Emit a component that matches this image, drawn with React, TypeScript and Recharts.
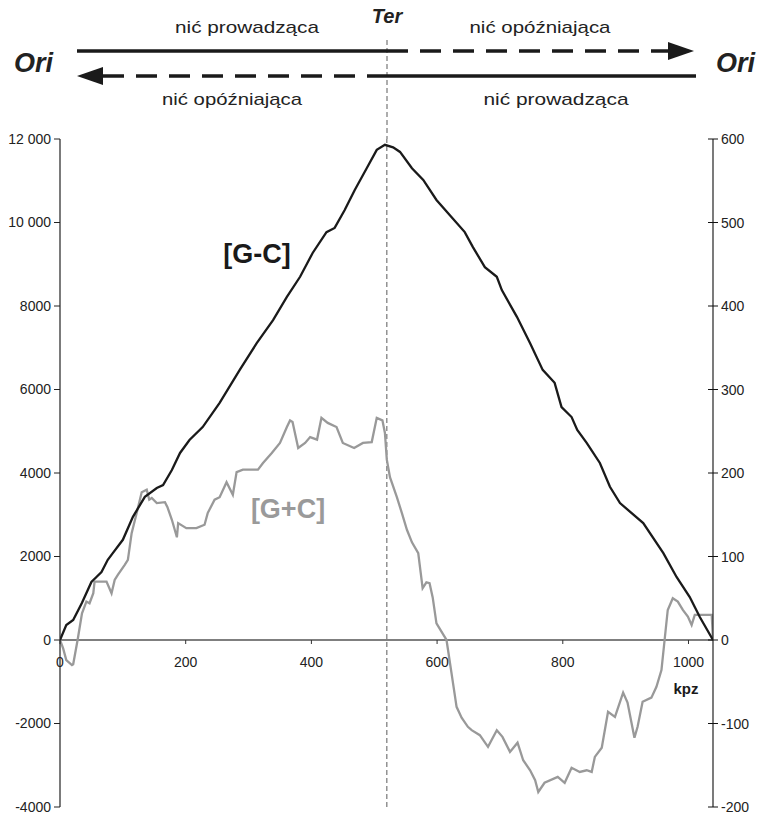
import React from 'react'
import { LineChart, Line, XAxis, YAxis, ReferenceLine } from 'recharts'

// cumulative [G-C] skew (left axis), position in kpz
const gcKb = [0, 10, 21, 35, 50, 58, 66, 76, 84, 100, 116, 135, 154, 164, 178, 191, 206, 227, 254, 286, 313, 339, 361, 382, 402, 424, 437, 453, 469, 488, 504, 517, 530, 541, 560, 578, 599, 620, 644, 657, 676, 695, 703, 727, 748, 768, 787, 798, 814, 823, 838, 859, 875, 891, 928, 960, 981, 1002, 1018, 1039]
const gcVal = [0, 360, 480, 890, 1390, 1510, 1630, 1920, 2080, 2400, 2950, 3430, 3640, 3710, 4070, 4480, 4790, 5100, 5680, 6470, 7110, 7660, 8220, 8700, 9270, 9770, 9870, 10300, 10780, 11300, 11740, 11860, 11800, 11690, 11300, 11020, 10540, 10180, 9770, 9410, 8930, 8700, 8380, 7740, 7110, 6470, 6160, 5580, 5340, 5030, 4720, 4240, 3670, 3280, 2800, 2080, 1510, 1030, 550, 0]

// cumulative [G+C] (right axis)
const gpcKb = [0, 5, 10, 19, 21, 28, 35, 42, 47, 53, 55, 74, 82, 87, 92, 103, 108, 114, 122, 130, 138, 142, 146, 154, 167, 171, 178, 186, 188, 201, 217, 230, 235, 246, 254, 265, 275, 281, 291, 305, 315, 323, 337, 350, 361, 366, 370, 379, 390, 398, 409, 416, 426, 440, 450, 468, 482, 496, 504, 513, 517, 520, 525, 536, 544, 552, 560, 570, 574, 577, 583, 588, 593, 599, 607, 615, 623, 631, 639, 649, 655, 668, 681, 695, 704, 716, 728, 737, 748, 756, 761, 771, 792, 803, 814, 827, 838, 846, 851, 862, 872, 883, 896, 903, 914, 919, 927, 941, 949, 957, 962, 967, 975, 983, 991, 999, 1005, 1010, 1023, 1037, 1039]
const gpcVal = [0, -10, -24, -30, -29, 0, 32, 46, 44, 56, 70, 70, 56, 72, 78, 90, 96, 128, 152, 177, 180, 168, 170, 164, 165, 159, 144, 123, 140, 134, 134, 138, 152, 168, 171, 189, 174, 201, 204, 204, 204, 212, 224, 236, 255, 263, 261, 230, 236, 243, 240, 266, 260, 255, 236, 230, 236, 237, 266, 263, 248, 216, 195, 171, 152, 132, 117, 104, 80, 62, 69, 68, 51, 20, 10, 0, -40, -80, -93, -104, -108, -114, -128, -108, -116, -134, -123, -144, -156, -168, -182, -171, -164, -171, -153, -158, -156, -158, -140, -129, -86, -92, -63, -75, -117, -104, -74, -69, -56, -36, 0, 36, 50, 46, 36, 28, 18, 30, 30, 30, 0]

const xTicks = [0, 200, 400, 600, 800, 1000]
const leftTicks = [-4000, -2000, 0, 2000, 4000, 6000, 8000, 10000, 12000]
const rightTicks = [-200, -100, 0, 100, 200, 300, 400, 500, 600]
const terKb = 520

const gcData = gcKb.map((kb, i) => ({ kb, v: gcVal[i] }))
const gpcData = gpcKb.map((kb, i) => ({ kb, v: gpcVal[i] }))

const W = 758
const H = 817
const TOP = 139
const BOTTOM = 10
const X_H = 20
const PLOT_H = H - TOP - BOTTOM
const ZERO_Y = TOP + (PLOT_H * 12000) / 16000
const FONT = '"Liberation Sans", Arial, sans-serif'

const fmtLeft = (v: number) => (Math.abs(v) >= 10000 ? `${Math.floor(v / 1000)} ${String(v % 1000).padStart(3, '0')}` : String(v))

// x ticks sit on the zero line, not at the bottom of the plot
const XTick = ({ x, payload }: any) => (
  <g>
    <line x1={x} x2={x} y1={ZERO_Y} y2={ZERO_Y + 4} stroke="#333" />
    <text x={x} y={ZERO_Y + 27} textAnchor="middle" fontSize={14} fontFamily={FONT} fill="#222">
      {payload.value}
    </text>
  </g>
)

const RightTick = ({ x, y, payload }: any) => (
  <g>
    <line x1={x - 5} x2={x + 5} y1={y} y2={y} stroke="#111" />
    <text x={x + 8} y={y + 5} fontSize={14} fontFamily={FONT} fill="#222">
      {payload.value}
    </text>
  </g>
)

function Header() {
  const tx = 387
  return (
    <svg width={W} height={H} style={{ position: 'absolute', left: 0, top: 0, pointerEvents: 'none' }}>
      <line x1={tx} x2={tx} y1={40} y2={TOP} stroke="#777" strokeWidth={1.2} strokeDasharray="5 3" />
      <text x={tx} y={23} textAnchor="middle" fontSize={20} fontWeight="bold" fontStyle="italic" fontFamily={FONT} fill="#222">Ter</text>
      <text x={14} y={72} fontSize={27} fontWeight="bold" fontStyle="italic" fontFamily={FONT} fill="#222">Ori</text>
      <text x={716} y={72} fontSize={27} fontWeight="bold" fontStyle="italic" fontFamily={FONT} fill="#222">Ori</text>

      {/* upper strand */}
      <line x1={77} x2={tx} y1={51} y2={51} stroke="#1a1a1a" strokeWidth={3.6} />
      <line x1={tx} x2={670} y1={51} y2={51} stroke="#1a1a1a" strokeWidth={3.6} strokeDasharray="21 12" />
      <polygon points="668,42 694,51 668,60" fill="#1a1a1a" />
      {/* lower strand */}
      <line x1={103} x2={tx} y1={76} y2={76} stroke="#1a1a1a" strokeWidth={3.6} strokeDasharray="21 12" />
      <polygon points="103,67 77,76 103,85" fill="#1a1a1a" />
      <line x1={tx} x2={696} y1={76} y2={76} stroke="#1a1a1a" strokeWidth={3.6} />

      <text x={247} y={33} textAnchor="middle" fontSize={17} textLength={144} lengthAdjust="spacingAndGlyphs" fontFamily={FONT} fill="#222">nić prowadząca</text>
      <text x={540} y={33} textAnchor="middle" fontSize={17} textLength={141} lengthAdjust="spacingAndGlyphs" fontFamily={FONT} fill="#222">nić opóźniająca</text>
      <text x={232} y={105} textAnchor="middle" fontSize={17} textLength={140} lengthAdjust="spacingAndGlyphs" fontFamily={FONT} fill="#222">nić opóźniająca</text>
      <text x={556} y={105} textAnchor="middle" fontSize={17} textLength={145} lengthAdjust="spacingAndGlyphs" fontFamily={FONT} fill="#222">nić prowadząca</text>

      <text x={257} y={263} textAnchor="middle" fontSize={27} fontWeight="bold" fontFamily={FONT} fill="#1a1a1a">[G-C]</text>
      <text x={288} y={518} textAnchor="middle" fontSize={27} fontWeight="bold" fontFamily={FONT} fill="#9a9a9a">[G+C]</text>
      <text x={686} y={694} textAnchor="middle" fontSize={15} fontWeight="bold" fontFamily={FONT} fill="#1a1a1a">kpz</text>
    </svg>
  )
}

export default function App() {
  return (
    <div style={{ position: 'absolute', left: 0, top: 0, width: W, height: H, background: '#fff' }}>
      <LineChart width={W} height={H} margin={{ top: TOP, right: 0, bottom: BOTTOM - X_H, left: 0 }}>
        <XAxis
          type="number"
          dataKey="kb"
          domain={[0, 1039]}
          ticks={xTicks}
          height={X_H}
          axisLine={false}
          tickLine={false}
          tickSize={0}
          tickMargin={0}
          tick={XTick}
          interval={0}
          allowDataOverflow
        />
        <YAxis
          yAxisId="l"
          domain={[-4000, 12000]}
          ticks={leftTicks}
          width={60}
          tickSize={6}
          tickMargin={3}
          tickFormatter={fmtLeft}
          stroke="#222"
          axisLine={{ stroke: '#222', strokeWidth: 1.2 }}
          tickLine={{ stroke: '#222' }}
          tick={{ fontSize: 14, fontFamily: FONT, fill: '#222' }}
          interval={0}
        />
        <YAxis
          yAxisId="r"
          orientation="right"
          domain={[-200, 600]}
          ticks={rightTicks}
          width={45}
          tickSize={0}
          tickMargin={0}
          tickLine={false}
          stroke="#222"
          axisLine={{ stroke: '#222', strokeWidth: 1.2 }}
          tick={RightTick}
          interval={0}
        />
        <ReferenceLine yAxisId="l" y={0} stroke="#555" strokeWidth={1.3} />
        <ReferenceLine yAxisId="l" x={terKb} stroke="#777" strokeWidth={1.2} strokeDasharray="5 3" />
        <Line
          yAxisId="r"
          data={gpcData}
          dataKey="v"
          type="linear"
          stroke="#999"
          strokeWidth={2.3}
          dot={false}
          activeDot={false}
          isAnimationActive={false}
        />
        <Line
          yAxisId="l"
          data={gcData}
          dataKey="v"
          type="linear"
          stroke="#1a1a1a"
          strokeWidth={2.3}
          dot={false}
          activeDot={false}
          isAnimationActive={false}
        />
      </LineChart>
      <Header />
    </div>
  )
}
